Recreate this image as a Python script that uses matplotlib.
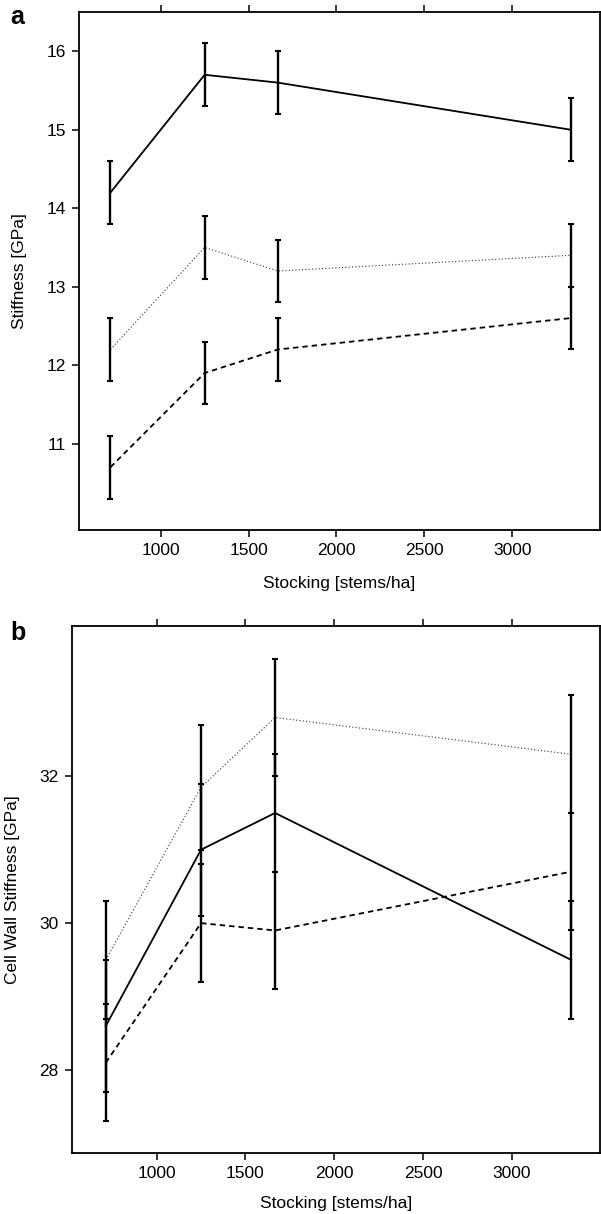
import numpy as np
import matplotlib
matplotlib.use('Agg')
import matplotlib.pyplot as plt

plt.rcParams['font.family'] = ['Liberation Sans', 'DejaVu Sans']

# stocking levels (stems/ha)
stocking = [714, 1250, 1667, 3333]

# panel a: stiffness [GPa]
a_solid = [14.2, 15.7, 15.6, 15.0]
a_solid_err = [0.4, 0.4, 0.4, 0.4]
a_dotted = [12.2, 13.5, 13.2, 13.4]
a_dotted_err = [0.4, 0.4, 0.4, 0.4]
a_dashed = [10.7, 11.9, 12.2, 12.6]
a_dashed_err = [0.4, 0.4, 0.4, 0.4]

# panel b: cell wall stiffness [GPa]
b_solid = [28.6, 31.0, 31.5, 29.5]
b_solid_err = [0.9, 0.9, 0.8, 0.8]
b_dotted = [29.5, 31.85, 32.8, 32.3]
b_dotted_err = [0.8, 0.85, 0.8, 0.8]
b_dashed = [28.1, 30.0, 29.9, 30.7]
b_dashed_err = [0.8, 0.8, 0.8, 0.8]

xticks = [1000, 1500, 2000, 2500, 3000]

fig = plt.figure(figsize=(6.01, 12.14), dpi=100)
ax_a = fig.add_axes([79/601, 1 - 530/1214, 521/601, 518/1214])
ax_b = fig.add_axes([71.7/601, 1 - 1153/1214, 528.3/601, 527.3/1214])

styles = [
    dict(ls='-', lw=1.3, color='black'),
    dict(ls=(0, (1, 2)), lw=0.8, color='#333333'),
    dict(ls=(0, (3, 2.2)), lw=1.3, color='black'),
]


def draw(ax, series, ylim, yticks, ylabel):
    for (y, err), st in zip(series, styles):
        ax.plot(stocking, y, **st, zorder=2)
        ax.errorbar(stocking, y, yerr=err, fmt='none', ecolor='black',
                    elinewidth=1.7, capsize=2, capthick=1.5, zorder=3)
    ax.set_ylim(*ylim)
    ax.set_xticks(xticks)
    ax.set_yticks(yticks)
    ax.tick_params(direction='out', length=5, width=1.1, labelsize=12.5,
                   pad=4.5, top=True, labeltop=False)
    for s in ax.spines.values():
        s.set_linewidth(1.3)
    ax.set_xlabel('Stocking [stems/ha]', fontsize=12.5)
    ax.set_ylabel(ylabel, fontsize=12.5)


draw(ax_a, [(a_solid, a_solid_err), (a_dotted, a_dotted_err), (a_dashed, a_dashed_err)],
     (9.9, 16.5), [11, 12, 13, 14, 15, 16], 'Stiffness [GPa]')
ax_a.set_xlim(535, 3500)
ax_a.xaxis.set_label_coords(0.5, -0.089)
ax_a.yaxis.set_label_coords(-0.100, 0.5)

draw(ax_b, [(b_solid, b_solid_err), (b_dotted, b_dotted_err), (b_dashed, b_dashed_err)],
     (26.87, 34.05), [28, 30, 32], 'Cell Wall Stiffness [GPa]')
ax_b.set_xlim(522, 3496)
ax_b.xaxis.set_label_coords(0.5, -0.082)
ax_b.yaxis.set_label_coords(-0.098, 0.5)

fig.text(10/601, 1 - 17/1214, 'a', fontsize=18, fontweight='bold', va='center')
fig.text(10/601, 1 - 633/1214, 'b', fontsize=18, fontweight='bold', va='center')

fig.savefig('out.png', dpi=100)
